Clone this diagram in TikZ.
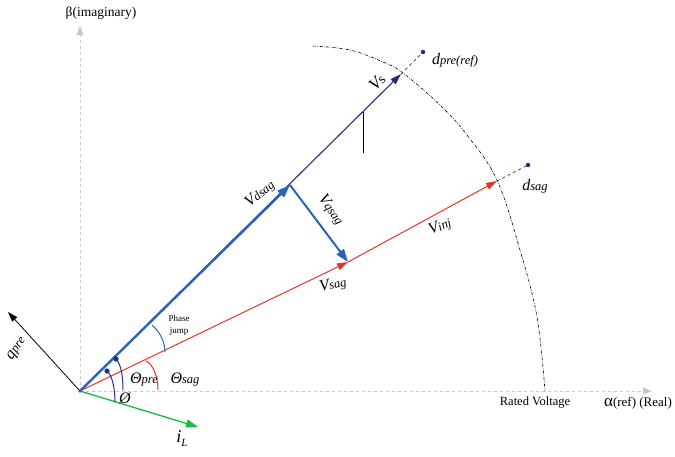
\documentclass[tikz,border=0pt]{standalone}
\usepackage{fontspec}
\setmainfont{Liberation Serif}
\usetikzlibrary{arrows.meta}
\definecolor{navyv}{RGB}{35,45,125}
\definecolor{steelv}{RGB}{40,100,185}
\definecolor{redv}{RGB}{232,52,38}
\definecolor{greenv}{RGB}{22,185,65}
\definecolor{axisg}{RGB}{200,200,200}
\newcommand{\vlab}[2]{{\fontsize{16}{16}\selectfont\itshape #1}{\fontsize{12.5}{12.5}\selectfont\itshape #2}}
\begin{document}
\begin{tikzpicture}[x=1pt,y=-1pt,
  axisline/.style={axisg,dashed,line width=0.8pt,-{Triangle[length=9pt,width=7pt]}},
  tipv/.style={-{Triangle[length=11pt,width=7pt]}},
  lab/.style={inner sep=0pt},
  ang/.style={line width=1pt},
  extdash/.style={navyv,dashed,line width=0.7pt},
  endpt/.style={circle,fill=navyv,inner sep=0pt,minimum size=4.5pt}]
\useasboundingbox (0,0) rectangle (675,456);
% key points
\coordinate (O) at (80,391);
\coordinate (ax) at (652,391);
\coordinate (ay) at (80,26);
\coordinate (Vs) at (401,74);
\coordinate (Vd) at (290,185);
\coordinate (Vq) at (348,262);
\coordinate (Vi) at (497,181);
\coordinate (Q) at (8,312);
\coordinate (IL) at (198,427);
\coordinate (tk1) at (363,112);
\coordinate (tk2) at (363,153);
\node[endpt] (dpre) at (423,52) {};
\node[endpt] (dsag) at (528,165) {};
% axes
\draw[axisline] (O) -- (ax);
\draw[axisline] (O) -- (ay);
% rated voltage arc
\draw[black,line width=0.6pt,dash pattern=on 3pt off 1.5pt on 0.6pt off 1.5pt]
  plot[smooth,tension=0.6] coordinates {(313,46) (350,50) (383,62) (403,73) (440,105) (467,135) (497,180) (520,250) (537,317) (545,391)};
% dashed extensions
\draw[extdash] (Vs) -- (dpre);
\draw[extdash] (Vi) -- (dsag);
% vectors
\draw[navyv,line width=1.1pt,tipv] (O) -- (Vs);
\draw[black,line width=0.8pt] (tk1) -- (tk2);
\draw[redv,line width=1pt,tipv] (O) -- (Vq);
\draw[redv,line width=1pt,tipv] (Vq) -- (Vi);
\draw[steelv,line width=2.4pt,-{Triangle[length=13pt,width=9pt]}] (O) -- (Vd);
\draw[steelv,line width=2pt,-{Triangle[length=13pt,width=9pt]}] (Vd) -- (Vq);
\draw[black,line width=0.8pt,-{Triangle[length=10pt,width=6.5pt]}] (O) -- (Q);
\draw[greenv,line width=1.3pt,-{Triangle[length=12pt,width=8pt]}] (O) -- (IL);
\fill[steelv] (O) circle (1.8pt);
% angle arcs
\draw[steelv,ang] (152,325) .. controls (160,332) and (165,342) .. (165,352);
\draw[redv,ang] (146,361) .. controls (153,364) and (158,377) .. (158,390);
\draw[navyv,ang] (116,359) .. controls (121,364) and (123,376) .. (123,390);
\draw[navyv,ang] (107,371) .. controls (112,375) and (115,388) .. (115,402);
\fill[navyv] (116,359) circle (2.6pt);
\fill[navyv] (107,371) circle (2.6pt);
% labels
\node[lab] (lbeta) at (101,13) {\fontsize{13.5}{14}\selectfont β(imaginary)};
\node[lab] (lalpha) at (638,403) {\fontsize{13}{14}\selectfont {\fontsize{17}{17}\selectfont α}(ref) (Real)};
\node[lab] (lrated) at (535,403) {\fontsize{12.5}{14}\selectfont Rated Voltage};
\node[lab,rotate=45] (lVs) at (377,82) {{\fontsize{17}{17}\selectfont\itshape V}{\fontsize{14}{14}\selectfont s}};
\node[lab] (ldpre) at (455,60) {\vlab{d}{pre(ref)}};
\node[lab] (ldsag) at (535,186) {\vlab{d}{sag}};
\node[lab,rotate=40] (lVd) at (260,194) {\vlab{V}{dsag}};
\node[lab,rotate=-55] (lVq) at (331,210) {\vlab{V}{qsag}};
\node[lab,rotate=12] (lVsag) at (333,285) {\vlab{V}{sag}};
\node[lab,rotate=22] (lVinj) at (440,227) {\vlab{V}{inj}};
\node[lab,rotate=55] (lq) at (17,349) {\vlab{q}{pre}};
\node[lab] (ltp) at (144,380) {\vlab{Θ}{pre}};
\node[lab] (lts) at (185,380) {\vlab{Θ}{sag}};
\node[lab] (lphi) at (125,398) {{\fontsize{16}{16}\selectfont\itshape Ø}};
\node[lab] (liL) at (182,439) {{\fontsize{18}{18}\selectfont\itshape i}{\fontsize{11}{11}\selectfont\raisebox{-4pt}{\itshape L}}};
\node[lab,align=center] (lpj) at (179,325) {\fontsize{9}{13}\selectfont Phase\\ \fontsize{9}{13}\selectfont jump};
\end{tikzpicture}
\end{document}
